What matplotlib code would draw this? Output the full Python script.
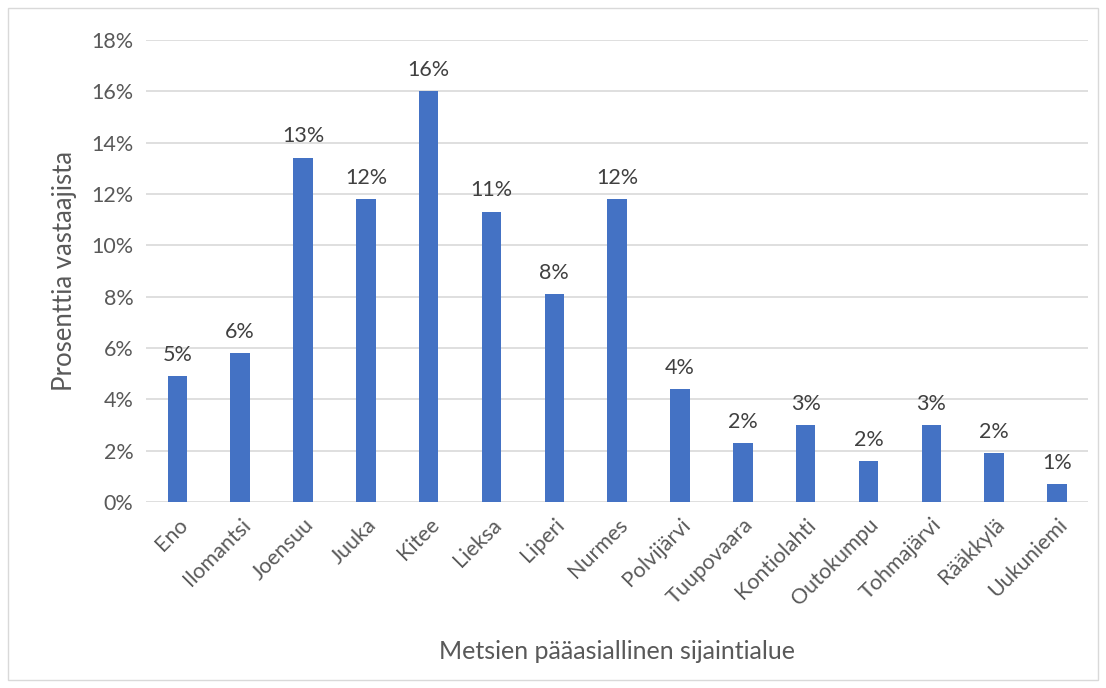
import matplotlib.pyplot as plt
from matplotlib.ticker import PercentFormatter
from matplotlib.patches import Rectangle

plt.rcParams['font.family'] = ['Lato', 'DejaVu Sans']

areas = ['Eno', 'Ilomantsi', 'Joensuu', 'Juuka', 'Kitee', 'Lieksa', 'Liperi', 'Nurmes',
         'Polvijärvi', 'Tuupovaara', 'Kontiolahti', 'Outokumpu', 'Tohmajärvi', 'Rääkkylä', 'Uukuniemi']
shares = [4.9, 5.8, 13.4, 11.8, 16.0, 11.3, 8.1, 11.8, 4.4, 2.3, 3.0, 1.6, 3.0, 1.9, 0.7]

txt = '#595959'

fig = plt.figure(figsize=(11.06, 6.88), dpi=100)
ax = fig.add_axes([0.132, 0.270, 0.852, 0.672])

x = range(len(areas))
bars = ax.bar(x, shares, width=0.31, color='#4472C4', zorder=3)
for b, v in zip(bars, shares):
    ax.text(b.get_x() + b.get_width() / 2, v + 0.45, f'{v:.0f}%', ha='center', va='bottom',
            fontsize=15.5, color='#404040')

ax.set_ylim(0, 18)
ax.set_xlim(-0.5, len(areas) - 0.5)
ax.set_yticks(range(0, 19, 2))
ax.yaxis.set_major_formatter(PercentFormatter(decimals=0))
ax.grid(axis='y', color='#D9D9D9', linewidth=1.2, zorder=0)
for s in ax.spines.values():
    s.set_visible(False)
ax.tick_params(length=0, labelsize=15.5, colors=txt, pad=9)
ax.set_xticks(list(x))
ax.set_xticklabels(areas, rotation=45, ha='right', rotation_mode='anchor')

ax.set_ylabel('Prosenttia vastaajista', fontsize=18.5, color=txt, labelpad=10)
ax.set_xlabel('Metsien pääasiallinen sijaintialue', fontsize=18, color=txt, labelpad=22)

fig.add_artist(Rectangle((8 / 1106, 8 / 688), 1 - 16 / 1106, 1 - 16 / 688, transform=fig.transFigure,
                         fill=False, edgecolor='#D9D9D9', linewidth=1))

fig.savefig('out.png', dpi=100)
